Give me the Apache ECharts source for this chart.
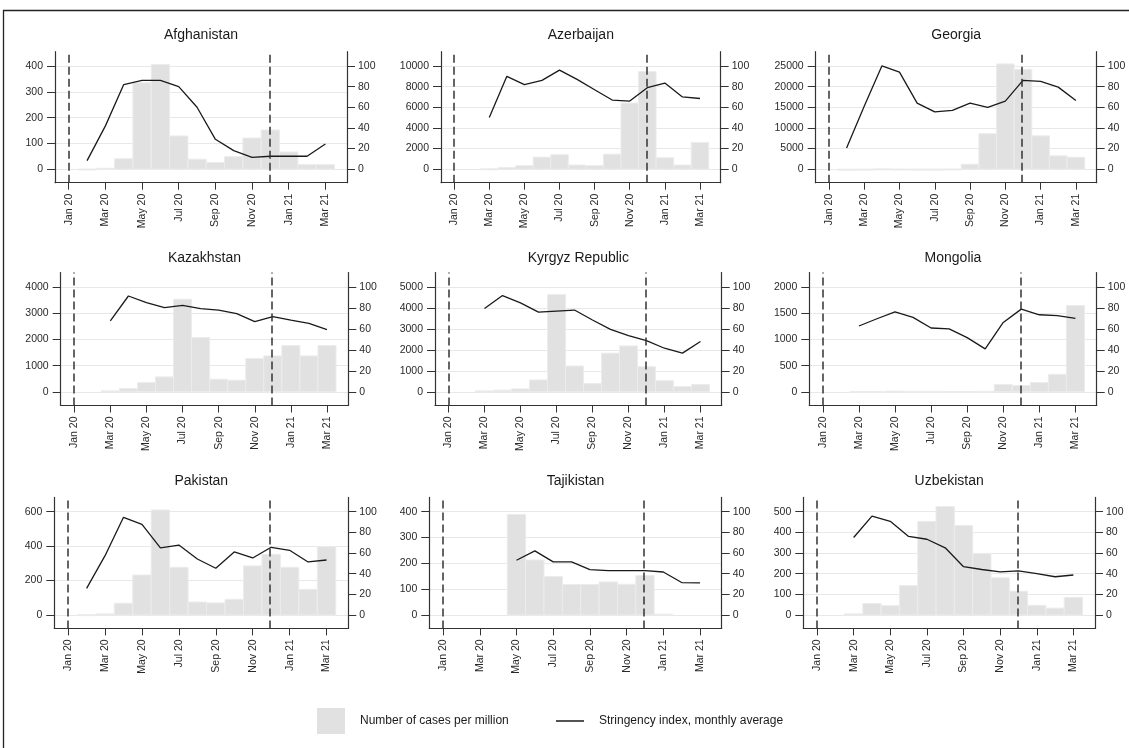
<!DOCTYPE html>
<html>
<head>
<meta charset="utf-8">
<script src="https://cdn.jsdelivr.net/npm/echarts@6/dist/echarts.min.js"></script>
<style>
html,body{margin:0;padding:0;background:#fff;}
#chart{width:1129px;height:748px;}
</style>
</head>
<body>
<div id="chart"></div>
<script>
// Month index: Jan 20 = 0 ... Mar 21 = 14
const monthIdx = [1,2,3,4,5,6,7,8,9,10,11,12,13,14]; // Feb 20 .. Mar 21
const tickPos = [0,2,4,6,8,10,12,14];
const tickLabels = ['Jan 20','Mar 20','May 20','Jul 20','Sep 20','Nov 20','Jan 21','Mar 21'];
const stringencyTicks = [0,20,40,60,80,100];
const policyLines = [0, 10.95];

const countries = ['Afghanistan','Azerbaijan','Georgia','Kazakhstan','Kyrgyz Republic','Mongolia','Pakistan','Tajikistan','Uzbekistan'];

// cases per million (monthly), Feb 20 .. Mar 21
const casesAfghanistan = [1,4,41,335,406,129,39,26,49,121,152,67,18,18];
const casesAzerbaijan  = [null,50,160,350,1175,1400,410,350,1460,6410,9460,1110,410,2600];
const casesGeorgia     = [10,30,100,60,40,50,80,1220,8600,25500,24200,8100,3250,2900];
const casesKazakhstan  = [null,40,127,356,571,3530,2070,483,444,1270,1371,1765,1371,1765];
const casesKyrgyz      = [null,47,80,142,568,4640,1230,394,1845,2190,1200,536,252,347];
const casesMongolia    = [null,5,5,15,10,10,5,5,10,139,120,177,334,1647];
const casesPakistan    = [2,6,68,232,610,277,75,70,91,285,352,277,149,397];
const casesTajikistan  = [null,null,null,389,213,149,118,118,128,119,153,3,null,null];
const casesUzbekistan  = [null,5,55,45,142,453,525,433,298,180,115,47,33,85];

// stringency index, monthly average, Feb 20 .. Mar 21
const strAfghanistan = [8.4,42,82,86,86,80,60,29,18,11.6,12.6,12.6,12.6,24.5];
const strAzerbaijan  = [null,50,90,82,86,96,87,77,67,66,79,83.5,70,68.5];
const strGeorgia     = [20.5,61,100,94,64,55.5,57,64,60,66,86,85,79.5,66.5];
const strKazakhstan  = [null,67.6,91.4,85,80.3,82.5,79.4,78,74.6,67,71.7,68.3,65.4,59.4];
const strKyrgyz      = [null,79.5,91.8,84.9,76,77,78,68.5,59.6,53.6,48.9,41.6,36.9,48];
const strMongolia    = [null,62.8,69.7,76.3,71,60.9,60,51.7,41,66.2,78.9,73.5,72.6,70];
const strPakistan    = [25.8,57.4,94.5,87.7,65,67.7,54.2,45.2,61,55.2,65.5,62.6,51.3,53.2];
const strTajikistan  = [null,null,null,53,62,51.4,51.4,43.8,42.9,42.9,42.9,41.6,31.4,31.1];
const strUzbekistan  = [null,75,95.7,90.7,76,73.3,65,46.7,44,41.7,42.7,40,37,38.7];

// left-axis tick labels
const ticksAfghanistan = [0,100,200,300,400];
const ticksAzerbaijan  = [0,2000,4000,6000,8000,10000];
const ticksGeorgia     = [0,5000,10000,15000,20000,25000];
const ticksKazakhstan  = [0,1000,2000,3000,4000];
const ticksKyrgyz      = [0,1000,2000,3000,4000,5000];
const ticksMongolia    = [0,500,1000,1500,2000];
const ticksPakistan    = [0,200,400,600];
const ticksTajikistan  = [0,100,200,300,400];
const ticksUzbekistan  = [0,100,200,300,400,500];

const casesAll = [casesAfghanistan,casesAzerbaijan,casesGeorgia,casesKazakhstan,casesKyrgyz,casesMongolia,casesPakistan,casesTajikistan,casesUzbekistan];
const strAll = [strAfghanistan,strAzerbaijan,strGeorgia,strKazakhstan,strKyrgyz,strMongolia,strPakistan,strTajikistan,strUzbekistan];
const ticksAll = [ticksAfghanistan,ticksAzerbaijan,ticksGeorgia,ticksKazakhstan,ticksKyrgyz,ticksMongolia,ticksPakistan,ticksTajikistan,ticksUzbekistan];

// layout (plot regions)
const gridBoxes = [
  {left:55,    top:51.7,  width:292,   height:131},
  {left:441,   top:51.7,  width:279.7, height:131},
  {left:815.7, top:51.7,  width:281,   height:131},
  {left:60.7,  top:272.5, width:287.6, height:133},
  {left:435,   top:272.5, width:286.7, height:133},
  {left:809.3, top:272.5, width:287.4, height:133},
  {left:54.3,  top:497.4, width:294,   height:131},
  {left:429.3, top:497.4, width:292.4, height:131},
  {left:803.3, top:497.4, width:291.7, height:131}
];
const titleY = [28, 28, 28, 251, 251, 251, 474, 474, 474];

const FONT = 'Liberation Sans, Arial, sans-serif';
const TXT = '#2a2a2a';
const AX = '#333';
const LBL = 10.5;

const grid = [], xAxis = [], yAxis = [], series = [], title = [];

countries.forEach((name, i) => {
  const g = gridBoxes[i];
  grid.push({left:g.left, top:g.top, width:g.width, height:g.height, containLabel:false});
  title.push({
    text: name, left: g.left + g.width/2, top: titleY[i], textAlign: 'center', padding: 0,
    textStyle: {fontFamily: FONT, fontSize: 14, fontWeight: 'normal', color: '#1a1a1a'}
  });
  xAxis.push({
    type:'value', gridIndex:i, min:-0.75, max:15.18,
    axisLine:{show:true, onZero:false, lineStyle:{color:AX, width:1.2}},
    axisTick:{show:true, length:7, customValues: tickPos, lineStyle:{color:AX, width:1}},
    axisLabel:{show:true, rotate:90, margin:11, fontFamily:FONT, fontSize:LBL, color:TXT,
      customValues: tickPos,
      formatter: v => tickLabels[tickPos.indexOf(Math.round(v))] || ''},
    splitLine:{show:false}
  });
  const ticks = ticksAll[i];
  const M = ticks[ticks.length-1];
  yAxis.push({
    type:'value', gridIndex:i, position:'left', min:-0.13*M, max:1.138*M,
    axisLine:{show:true, onZero:false, lineStyle:{color:AX, width:1.2}},
    axisTick:{show:true, length:8, customValues: ticks, lineStyle:{color:AX, width:1}},
    axisLabel:{show:true, margin:12, fontFamily:FONT, fontSize:LBL, color:TXT, customValues: ticks,
      formatter: v => String(v)},
    splitLine:{show:true, lineStyle:{color:'#e8e8e8', width:1}}
  });
  yAxis.push({
    type:'value', gridIndex:i, position:'right', min:-13, max:113.8,
    axisLine:{show:true, onZero:false, lineStyle:{color:AX, width:1.2}},
    axisTick:{show:true, length:8, customValues: stringencyTicks, lineStyle:{color:AX, width:1}},
    axisLabel:{show:true, margin:11, fontFamily:FONT, fontSize:LBL, color:TXT, customValues: stringencyTicks,
      formatter: v => String(v)},
    splitLine:{show:false}
  });
  const barData = [];
  monthIdx.forEach((m, k) => { if (casesAll[i][k] != null) barData.push([m, casesAll[i][k]]); });
  series.push({
    type:'custom', name:'Number of cases per million', xAxisIndex:i, yAxisIndex:2*i,
    coordinateSystem:'cartesian2d', encode:{x:0, y:1}, data:barData, z:2,
    renderItem: function(params, api){
      const x = api.value(0), v = api.value(1);
      const p0 = api.coord([x-0.5, 0]);
      const p1 = api.coord([x+0.5, v]);
      return {type:'rect',
        shape:{x:p0[0], y:Math.min(p0[1],p1[1]), width:p1[0]-p0[0], height:Math.max(Math.abs(p1[1]-p0[1]),1)},
        style:{fill:'#e1e1e1', stroke:'#ececec', lineWidth:1}};
    }
  });
  series.push({
    type:'line', name:'Stringency index, monthly average', xAxisIndex:i, yAxisIndex:2*i+1,
    data: monthIdx.map((m,k) => [m, strAll[i][k]]), showSymbol:false, symbol:'none',
    connectNulls:false, z:4,
    lineStyle:{color:'#1a1a1a', width:1.3},
    markLine:{silent:true, symbol:'none', label:{show:false},
      lineStyle:{type:[8,4], color:'#333', width:1.5},
      data: policyLines.map(v => ({xAxis:v}))}
  });
});

const chart = echarts.init(document.getElementById('chart'), null, {renderer:'canvas'});
chart.setOption({
  animation:false,
  backgroundColor:'#fff',
  title, grid, xAxis, yAxis, series,
  graphic:[
    {type:'rect', shape:{x:3.5, y:10.5, width:1135, height:745}, style:{fill:'none', stroke:'#222', lineWidth:1.3}, silent:true, z:-1},
    {type:'rect', shape:{x:317, y:708, width:28, height:26}, style:{fill:'#e1e1e1'}},
    {type:'text', x:360, y:721, style:{text:'Number of cases per million', fontFamily:FONT, fontSize:12, fill:'#1a1a1a', textVerticalAlign:'middle', verticalAlign:'middle'}},
    {type:'line', shape:{x1:556, y1:721, x2:584, y2:721}, style:{stroke:'#1a1a1a', lineWidth:1.5}},
    {type:'text', x:599, y:721, style:{text:'Stringency index, monthly average', fontFamily:FONT, fontSize:12, fill:'#1a1a1a', textVerticalAlign:'middle', verticalAlign:'middle'}}
  ]
});
</script>
</body>
</html>
